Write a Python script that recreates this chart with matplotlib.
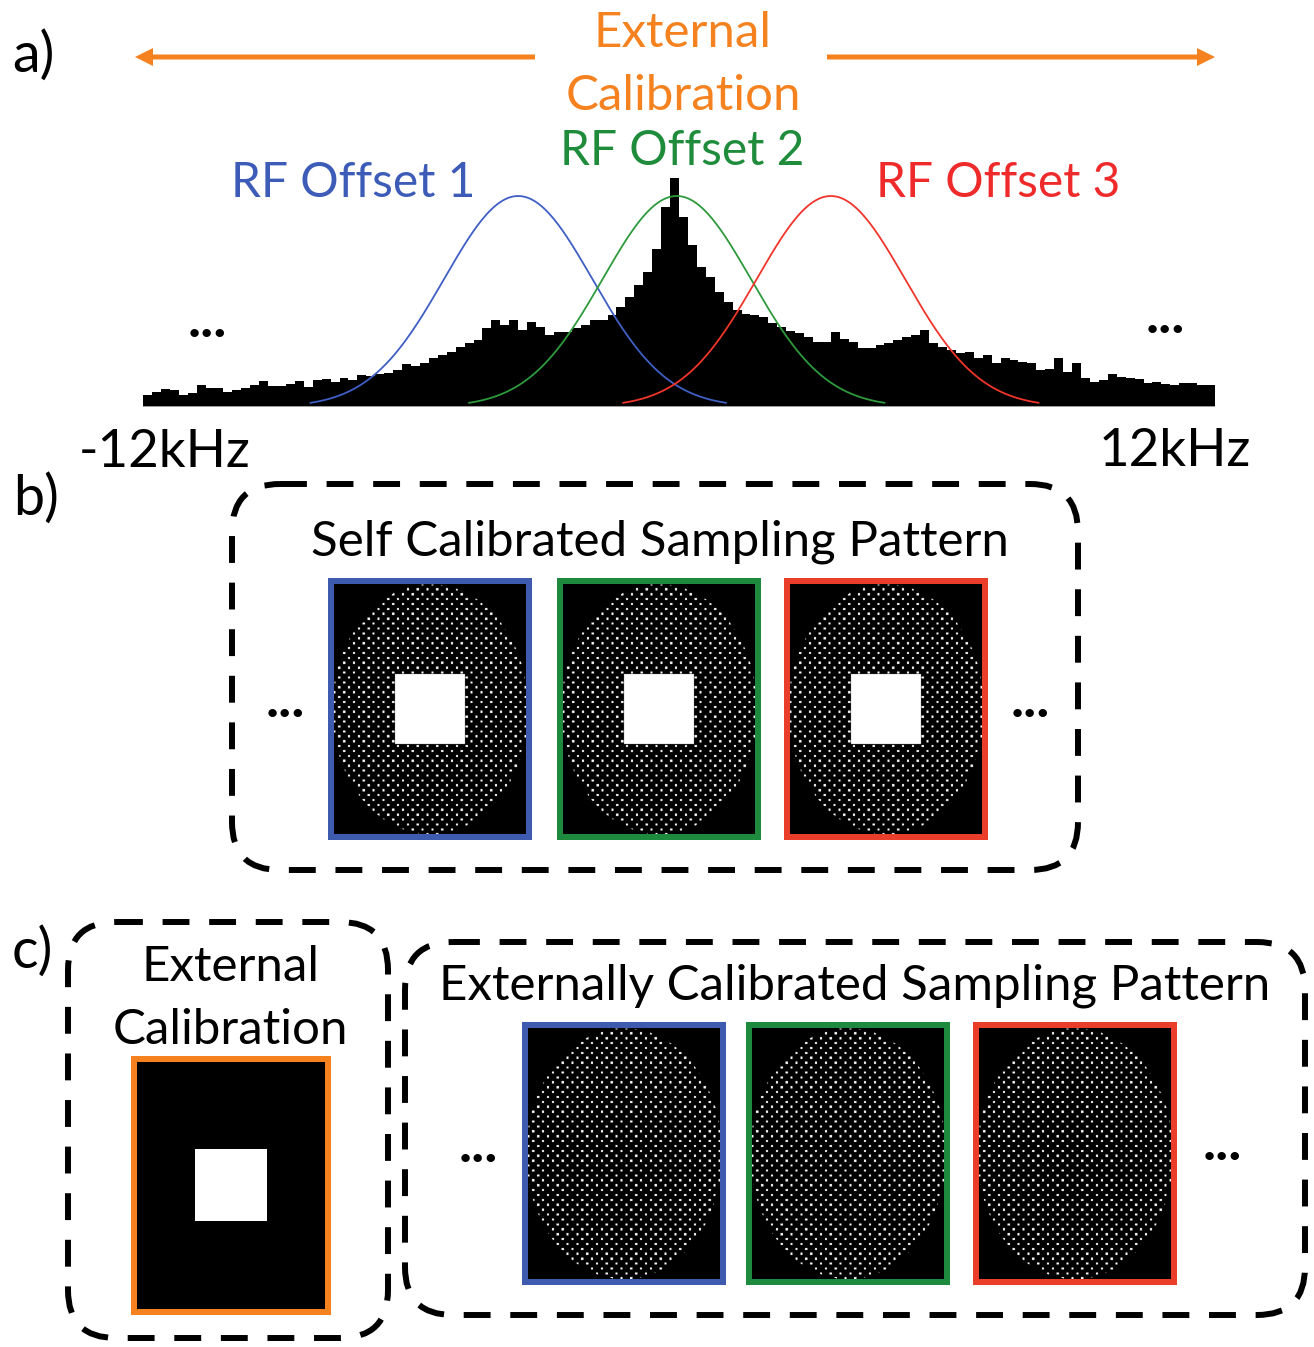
import numpy as np
import matplotlib
matplotlib.use("Agg")
import matplotlib.pyplot as plt
from matplotlib.patches import FancyBboxPatch, Rectangle, FancyArrow

plt.rcParams['font.family'] = ['Lato', 'DejaVu Sans']

# spectrum histogram: 0.2 kHz bins from -12 to 12 kHz (arbitrary amplitude)
freq_edges = np.round(np.arange(-12.0, 12.0001, 0.2), 2)
spec_counts = [
    12, 15, 18, 17, 12, 14, 22, 19, 19, 15,
    17, 19, 22, 26, 21, 21, 23, 26, 20, 27,
    28, 25, 29, 27, 32, 31, 33, 34, 37, 43,
    41, 44, 49, 52, 55, 60, 64, 67, 79, 87,
    82, 87, 77, 85, 80, 72, 75, 75, 79, 82,
    87, 87, 92, 100, 110, 122, 135, 158, 200, 229,
    190, 162, 140, 130, 115, 105, 97, 93, 92, 90,
    84, 80, 76, 74, 70, 65, 65, 75, 68, 65,
    59, 59, 62, 64, 67, 70, 72, 77, 64, 60,
    57, 54, 55, 49, 52, 44, 49, 47, 45, 44,
    37, 38, 49, 35, 44, 29, 25, 27, 33, 30,
    29, 28, 24, 25, 23, 22, 24, 24, 22, 22,
]

# RF excitation profiles
rf_labels = ["RF Offset 1", "RF Offset 2", "RF Offset 3"]
rf_centers = [-3.6, -0.05, 3.4]   # kHz
rf_sigma = 1.66                   # kHz
rf_amp = 211
rf_colors = ["#3f5fc4", "#2e9a3c", "#f0352b"]
text_colors = ["#3d5cb8", "#1f8c3c", "#ee2a2a"]
box_colors = ["#3e5bb0", "#1d8a3e", "#ea3d2a"]
orange = "#f5821f"

W, H = 1314, 1347
fig = plt.figure(figsize=(W / 100, H / 100), dpi=100)
ax = fig.add_axes([0, 0, 1, 1])
ax.set_xlim(0, W)
ax.set_ylim(H, 0)
ax.axis('off')

# ---- a) spectrum
sx0, sx1, sy0, sy1 = 143, 1215, 170, 407
sax = fig.add_axes([sx0 / W, 1 - sy1 / H, (sx1 - sx0) / W, (sy1 - sy0) / H])
sax.stairs(spec_counts, freq_edges, fill=True, color='black')
for c, col in zip(rf_centers, rf_colors):
    f = np.linspace(c - 2.8 * rf_sigma, c + 2.8 * rf_sigma, 300)
    sax.plot(f, rf_amp * np.exp(-(f - c) ** 2 / (2 * rf_sigma ** 2)), color=col, lw=1.3)
sax.axhline(0, color='#b0b0b0', lw=2)
sax.set_xlim(-12, 12)
sax.set_ylim(0, 237)
sax.axis('off')

big = 35.5
ax.text(12, 72, "a)", fontsize=40, ha='left', va='baseline')
ax.text(683, 47, "External", fontsize=big, color=orange, ha='center', va='baseline')
ax.text(683, 110, "Calibration", fontsize=big, color=orange, ha='center', va='baseline')
ax.add_patch(FancyArrow(535, 57, -400, 0, width=5, head_width=18, head_length=18,
                        length_includes_head=True, color=orange, lw=0))
ax.add_patch(FancyArrow(827, 57, 388, 0, width=5, head_width=18, head_length=18,
                        length_includes_head=True, color=orange, lw=0))
ax.text(682, 165, rf_labels[1], fontsize=34.5, color=text_colors[1], ha='center', va='baseline')
ax.text(353, 197, rf_labels[0], fontsize=34.5, color=text_colors[0], ha='center', va='baseline')
ax.text(998, 197, rf_labels[2], fontsize=34.5, color=text_colors[2], ha='center', va='baseline')
ell = dict(fontsize=40, fontweight='bold', ha='center', va='baseline')
ax.text(207, 337, "...", **ell)
ax.text(1165, 333, "...", **ell)
ax.text(165, 467, "-12kHz", fontsize=38, ha='center', va='baseline')
ax.text(1175, 466, "12kHz", fontsize=38, ha='center', va='baseline')


def dashed_box(x0, y0, x1, y1):
    ax.add_patch(FancyBboxPatch((x0, y0), x1 - x0, y1 - y0,
                                boxstyle="round,pad=0,rounding_size=48",
                                fill=False, ec='black', lw=4.3,
                                ls=(0, (4.5, 3.3)), capstyle='butt'))


def pattern(w, h, square):
    # undersampled k-space mask: quincunx lattice inside an ellipse
    sc = 2
    img = np.zeros((h * sc, w * sc))
    yy, xx = np.mgrid[0:h * sc, 0:w * sc] / sc
    cx, cy = w / 2, h / 2
    inside = ((xx - cx) / (w / 2 + 2)) ** 2 + ((yy - cy) / (h / 2)) ** 2 <= 1
    step = 4.9
    gx = np.mod(xx + 1, step) < 2.2
    gy = np.mod(yy + 1, step) < 2.2
    ix = np.floor((xx + 1) / step).astype(int)
    iy = np.floor((yy + 1) / step).astype(int)
    dots = gx & gy & ((ix + iy) % 2 == 0)
    img[inside & dots] = 1
    if square:
        s = 35
        img[int((cy - s) * sc):int((cy + s) * sc), int((cx - s) * sc):int((cx + s) * sc)] = 1
    return img


def sample_box(x0, y0, x1, y1, color, dots=True, square=True):
    bw = 6
    ix0, iy0, ix1, iy1 = x0 + bw, y0 + bw, x1 - bw, y1 - bw
    if dots:
        img = pattern(int(ix1 - ix0), int(iy1 - iy0), square)
    else:
        img = np.zeros((int(iy1 - iy0), int(ix1 - ix0)))
        cy, cx = img.shape[0] // 2, img.shape[1] // 2
        img[cy - 36:cy + 36, cx - 36:cx + 36] = 1
    ax.imshow(img, cmap='gray', vmin=0, vmax=1, extent=(ix0, ix1, iy1, iy0),
              interpolation='antialiased', zorder=2)
    ax.add_patch(Rectangle((x0 + bw / 2, y0 + bw / 2), x1 - x0 - bw, y1 - y0 - bw,
                           fill=False, ec=color, lw=bw * 0.72, zorder=3))


# ---- b) self calibrated
ax.text(13, 515, "b)", fontsize=40, ha='left', va='baseline')
dashed_box(232, 484, 1078, 870)
ax.text(660, 555, "Self Calibrated Sampling Pattern", fontsize=big, ha='center', va='baseline')
for x0, col in zip([328, 557, 784], box_colors):
    sample_box(x0, 578, x0 + 204, 840, col, square=True)
ax.text(285, 717, "...", **ell)
ax.text(1030, 717, "...", **ell)

# ---- c) external calibration
ax.text(12, 968, "c)", fontsize=40, ha='left', va='baseline')
dashed_box(68, 922, 388, 1338)
ax.text(230, 981, "External", fontsize=big, ha='center', va='baseline')
ax.text(230, 1044, "Calibration", fontsize=big, ha='center', va='baseline')
sample_box(131, 1056, 331, 1315, orange, dots=False)

dashed_box(405, 942, 1305, 1315)
ax.text(855, 1000, "Externally Calibrated Sampling Pattern", fontsize=big, ha='center', va='baseline')
for x0, col in zip([522, 746, 973], box_colors):
    sample_box(x0, 1022, x0 + 204, 1285, col, square=False)
ax.text(478, 1162, "...", **ell)
ax.text(1222, 1160, "...", **ell)

fig.savefig("out.png", dpi=100)
